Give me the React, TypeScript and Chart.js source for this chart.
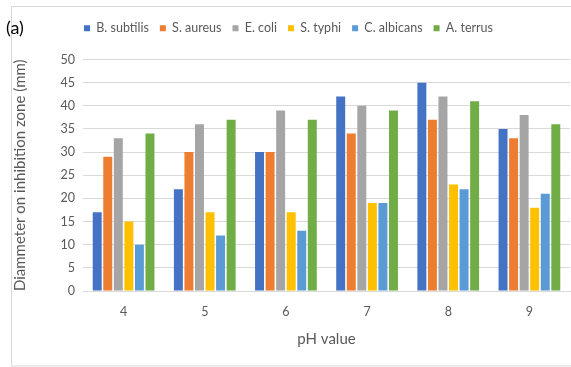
import React, { useEffect, useRef } from 'react';
import { Chart, registerables } from 'chart.js';

Chart.register(...registerables);

const categories = ['4', '5', '6', '7', '8', '9'];
const seriesNames = ['B. subtilis', 'S. aureus', 'E. coli', 'S. typhi', 'C. albicans', 'A. terrus'];
const bSubtilis = [17, 22, 30, 42, 45, 35];
const sAureus = [29, 30, 30, 34, 37, 33];
const eColi = [33, 36, 39, 40, 42, 38];
const sTyphi = [15, 17, 17, 19, 23, 18];
const cAlbicans = [10, 12, 13, 19, 22, 21];
const aTerrus = [34, 37, 37, 39, 41, 36];
const seriesColors = ['#4472C4', '#ED7D31', '#A5A5A5', '#FFC000', '#5B9BD5', '#70AD47'];
const yMin = 0;
const yMax = 50;
const yStep = 5;
const xTitle = 'pH value';
const yTitle = 'Diammeter on inhibition zone (mm)';
const panelLabel = '(a)';

const FONT = 'Lato';
const TEXT = '#595959';

export default function App() {
  const ref = useRef<HTMLCanvasElement>(null);
  useEffect(() => {
    const series = [bSubtilis, sAureus, eColi, sTyphi, cAlbicans, aTerrus];
    const framePlugin = {
      id: 'frame',
      beforeUpdate(chart: any) {
        const lg = chart.legend;
        if (lg && !lg._patched) {
          const orig = lg.fit.bind(lg);
          lg.fit = function () {
            orig();
            this.height += 15;
          };
          lg._patched = true;
        }
      },
      beforeDraw(chart: any) {
        const ctx = chart.ctx;
        ctx.save();
        ctx.fillStyle = '#ffffff';
        ctx.fillRect(0, 0, chart.width, chart.height);
        ctx.strokeStyle = '#d9d9d9';
        ctx.lineWidth = 1;
        ctx.strokeRect(11.5, 6.5, 700, 359.5);
        ctx.restore();
      },
      afterDraw(chart: any) {
        const ctx = chart.ctx;
        ctx.save();
        ctx.fillStyle = '#000000';
        ctx.font = `18px ${FONT}`;
        ctx.textBaseline = 'middle';
        ctx.fillText(panelLabel, 6, 28);
        ctx.restore();
      },
    };
    const chart = new Chart(ref.current!, {
      type: 'bar',
      data: {
        labels: categories,
        datasets: series.map((d, i) => ({
          label: seriesNames[i],
          data: d,
          backgroundColor: seriesColors[i],
          borderWidth: 0,
          barPercentage: 0.85,
          categoryPercentage: 0.78,
        })),
      },
      options: {
        animation: false,
        responsive: false,
        maintainAspectRatio: false,
        layout: { padding: { left: 7, right: 1, top: 11, bottom: 15 } },
        plugins: {
          tooltip: { enabled: false },
          legend: {
            position: 'top',
            labels: {
              boxWidth: 6,
              boxHeight: 6,
              padding: 11,
              color: TEXT,
              font: { family: FONT, size: 12.5 },
            },
          },
        },
        scales: {
          x: {
            grid: { display: false, drawTicks: false },
            border: { display: true, color: '#d9d9d9' },
            ticks: { color: TEXT, font: { family: FONT, size: 12.5 }, padding: 13 },
            title: { display: true, text: xTitle, color: TEXT, font: { family: FONT, size: 15 } },
            afterFit: (s: any) => {
              s.height = 61;
            },
          },
          y: {
            min: yMin,
            max: yMax,
            ticks: { stepSize: yStep, color: TEXT, font: { family: FONT, size: 12.5 }, padding: 8 },
            grid: { color: '#d9d9d9', drawTicks: false },
            border: { display: false },
            title: { display: true, text: yTitle, color: TEXT, font: { family: FONT, size: 15 } },
            afterFit: (s: any) => {
              s.width = 76;
            },
          },
        },
      },
      plugins: [framePlugin],
    } as any);
    return () => chart.destroy();
  }, []);
  return (
    <div style={{ position: 'fixed', left: 0, top: 0, width: 571, height: 367 }}>
      <canvas ref={ref} width={571} height={367} style={{ display: 'block' }} />
    </div>
  );
}
